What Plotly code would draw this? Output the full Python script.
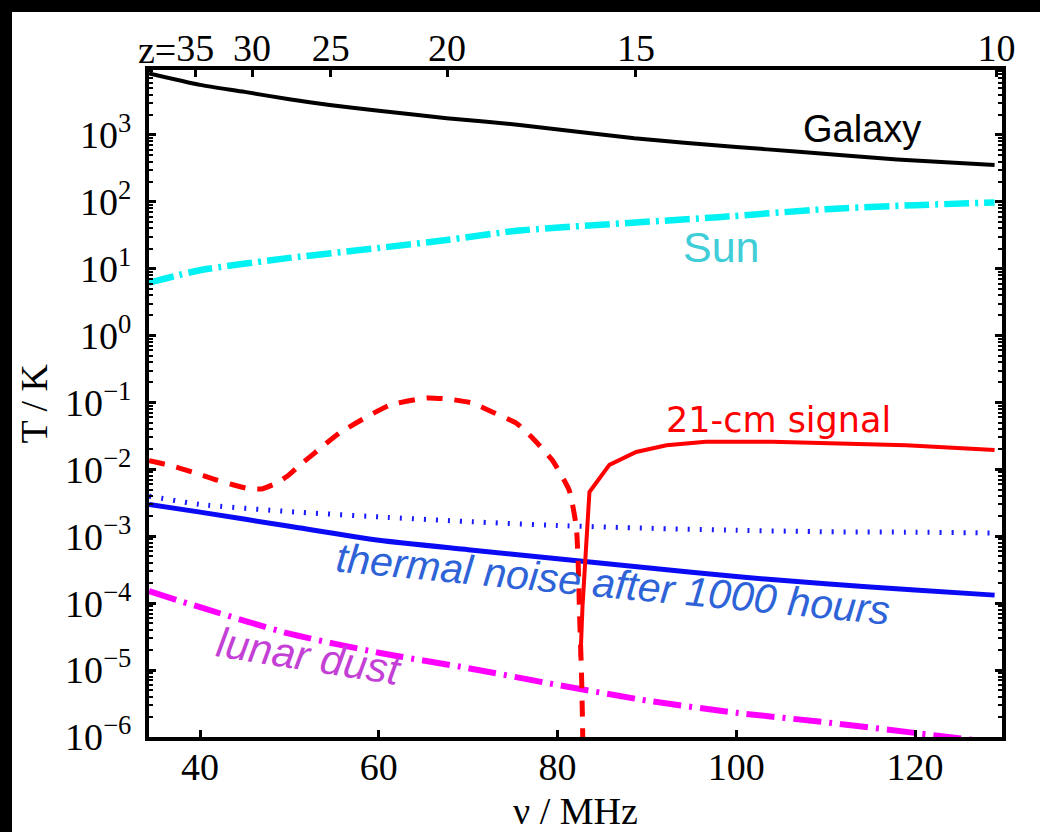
import numpy as np
import plotly.graph_objects as go

# ---------------- data ----------------
galaxy_nu = [34.3, 40, 45, 50, 54.5, 60, 67.6, 75.75, 88.6, 100, 107, 118, 128.9]
galaxy_T = [8.3e3, 5.6e3, 4.4e3, 3.4e3, 2.8e3, 2.3e3, 1.78e3, 1.41e3, 8.9e2, 6.6e2, 5.6e2, 4.3e2, 3.55e2]

sun_nu = [34.3, 40, 50, 60, 67.6, 75.75, 98, 110, 120, 128.9]
sun_T = [6.2, 9.5, 14.5, 20.4, 26.9, 37.2, 58.9, 77.6, 89.1, 97.7]

noise_nu = [34.3, 40, 50, 60, 70, 80, 90, 100, 110, 120, 128.9]
noise_T = [3.0e-3, 2.3e-3, 1.41e-3, 8.7e-4, 6.3e-4, 4.6e-4, 3.4e-4, 2.5e-4, 1.95e-4, 1.58e-4, 1.32e-4]

dotted_nu = [34.3, 40, 50, 60, 70, 80, 90, 100, 110, 120, 128.9]
dotted_T = [3.98e-3, 3.0e-3, 2.34e-3, 1.95e-3, 1.66e-3, 1.45e-3, 1.32e-3, 1.23e-3, 1.17e-3, 1.15e-3, 1.12e-3]

dust_nu = [34.3, 40, 50, 60, 70, 80, 90, 100, 110, 120, 128.9]
dust_T = [1.51e-4, 8.7e-5, 3.5e-5, 1.82e-5, 1.07e-5, 6.0e-6, 3.5e-6, 2.3e-6, 1.66e-6, 1.15e-6, 8.3e-7]

# 21-cm signal in absorption (|T|, dashed) and emission (solid)
abs_nu = [34.3, 35.0, 36.9, 39.2, 41.9, 43.7, 45.3, 46.9, 48.6, 49.7, 51.2, 52.6, 55.6,
          61.2, 65.4, 67.9, 70.5, 72.7, 75.4, 77.2, 79.4, 81.3, 82.1, 82.35, 82.46,
          82.68, 82.79, 82.85]
abs_T = [1.35e-2, 1.29e-2, 1.12e-2, 9.1e-3, 6.9e-3, 5.9e-3, 5.2e-3, 5.1e-3, 6.3e-3, 7.8e-3,
         1.17e-2, 1.66e-2, 3.5e-2, 9.1e-2, 0.117, 0.112, 9.8e-2, 7.2e-2, 4.9e-2, 2.95e-2,
         1.38e-2, 4.9e-3, 1.38e-3, 2.8e-4, 7.1e-5, 9.1e-6, 1.78e-6, 5.0e-7]

em_nu = [82.57, 82.79, 83.24, 83.57, 85.8, 88.8, 92.2, 96.6, 104, 111.5, 119, 128.9]
em_T = [1.58e-5, 8.7e-5, 8.7e-4, 4.6e-3, 1.17e-2, 1.82e-2, 2.3e-2, 2.6e-2, 2.6e-2, 2.45e-2, 2.3e-2, 1.95e-2]

x_ticks = [40, 60, 80, 100, 120]
y_exponents = [-6, -5, -4, -3, -2, -1, 0, 1, 2, 3]
z_labels = [35, 30, 25, 20, 15, 10]

X_RANGE = [34.29, 129.73]
Y_RANGE = [-6, 3.97]

# ---------------- figure ----------------
fig = go.Figure()

def add_line(x, y, color, width, dash="solid", shape="linear", smoothing=0.0):
    line = dict(color=color, width=width, dash=dash, shape=shape)
    if shape == "spline":
        line["smoothing"] = smoothing
    fig.add_trace(go.Scatter(x=x, y=y, mode="lines", line=line,
                             hoverinfo="skip", showlegend=False, cliponaxis=True))

add_line(galaxy_nu, galaxy_T, "black", 4, shape="spline", smoothing=0.6)
add_line(sun_nu, sun_T, "#00f2f2", 6.5, "25px,6px,3px,6px", shape="spline", smoothing=0.6)
add_line(dotted_nu, dotted_T, "#1a1aff", 5, "2px,10px", shape="spline", smoothing=0.6)
add_line(noise_nu, noise_T, "#0a0af5", 5, shape="spline", smoothing=0.6)
add_line(dust_nu, dust_T, "#ff00ff", 6, "28px,8px,3px,8px", shape="spline", smoothing=0.6)
add_line(abs_nu, abs_T, "#ff0000", 5, "16px,12px", shape="spline", smoothing=0.5)
add_line(em_nu, em_T, "#ff0000", 4)

# dummy trace to establish the top (redshift) axis
fig.add_trace(go.Scatter(x=[X_RANGE[0], X_RANGE[1]], y=[None, None], xaxis="x2",
                         mode="lines", hoverinfo="skip", showlegend=False))

serif = "Liberation Serif"
sans = "Liberation Sans"

ytickvals = [10.0 ** e for e in y_exponents]
yticktext = ["10<sup>%s</sup>" % (str(e).replace("-", "\u2212")) for e in y_exponents]
minor_vals = [m * 10.0 ** e for e in range(-6, 4) for m in range(2, 10)]

z_pos = [1420.4 / (1 + z) for z in z_labels]

fig.update_layout(
    width=1040, height=832,
    margin=dict(l=149, r=38, t=70, b=95),
    paper_bgcolor="white", plot_bgcolor="white",
    showlegend=False,
    xaxis=dict(range=X_RANGE, tickvals=x_ticks, ticktext=[str(v) for v in x_ticks],
               ticks="inside", ticklen=7, tickwidth=3, tickcolor="black",
               showline=True, linewidth=4, linecolor="black", mirror=False,
               showgrid=False, zeroline=False,
               tickfont=dict(family=serif, size=38, color="black"),
               ticklabelstandoff=-7),
    xaxis2=dict(range=X_RANGE, overlaying="x", side="top", anchor="y",
                tickvals=z_pos, ticktext=[str(z) for z in z_labels],
                ticks="inside", ticklen=7, tickwidth=3, tickcolor="black",
                showline=True, linewidth=4, linecolor="black",
                showgrid=False, zeroline=False,
                tickfont=dict(family=serif, size=38, color="black"),
                ticklabelstandoff=-10),
    yaxis=dict(type="log", range=Y_RANGE, tickvals=ytickvals, ticktext=yticktext,
               ticks="inside", ticklen=7, tickwidth=3, tickcolor="black",
               showline=True, linewidth=4, linecolor="black", mirror="ticks",
               showgrid=False, zeroline=False,
               minor=dict(tickvals=minor_vals, ticks="inside", ticklen=4,
                          tickwidth=2, tickcolor="black", showgrid=False),
               tickfont=dict(family=serif, size=38, color="black"),
               ticklabelstandoff=6),
)

# black frame strips at left/top of the page
def px_x(p):
    return (p - 149) / 853.0

def px_y(p):
    return (737 - p) / 667.0

fig.add_shape(type="rect", xref="paper", yref="paper",
              x0=px_x(-20), x1=px_x(12), y0=px_y(900), y1=px_y(-20),
              fillcolor="black", line=dict(width=0), layer="above")
fig.add_shape(type="rect", xref="paper", yref="paper",
              x0=px_x(-20), x1=px_x(1100), y0=px_y(12), y1=px_y(-20),
              fillcolor="black", line=dict(width=0), layer="above")

# axis titles
fig.add_annotation(text="\u03bd / MHz", xref="paper", yref="paper", x=0.5, y=px_y(811),
                   xanchor="center", yanchor="middle", showarrow=False,
                   font=dict(family=serif, size=38, color="black"))
fig.add_annotation(text="T / K", xref="paper", yref="paper", x=px_x(33), y=0.5,
                   xanchor="center", yanchor="middle",
                   textangle=-90, showarrow=False,
                   font=dict(family=serif, size=38, color="black"))
fig.add_annotation(text="z=", xref="paper", yref="paper", x=px_x(178), y=px_y(50),
                   xanchor="right", yanchor="middle", showarrow=False,
                   font=dict(family=serif, size=38, color="black"))

# curve labels
def label(text, nu, logT, color, size, family=sans, angle=0, style="normal"):
    fig.add_annotation(text=text, x=nu, y=logT, xref="x", yref="y", showarrow=False,
                       xanchor="center", yanchor="middle", textangle=angle,
                       font=dict(family=family, size=size, color=color, style=style))

label("Galaxy", 114.07, 3.088, "black", 38)
label("Sun", 98.29, 1.324, "#3fcdd8", 43)
label("21-cm signal", 104.67, -1.262, "#ff0000", 35, family="DejaVu Sans")
label("thermal noise after 1000 hours", 86.2, -3.72, "#2e63d8", 41, angle=5.5, style="italic")
label("lunar dust", 52.3, -4.79, "#c43fd6", 42, angle=9, style="italic")

fig.write_html("out.html")
